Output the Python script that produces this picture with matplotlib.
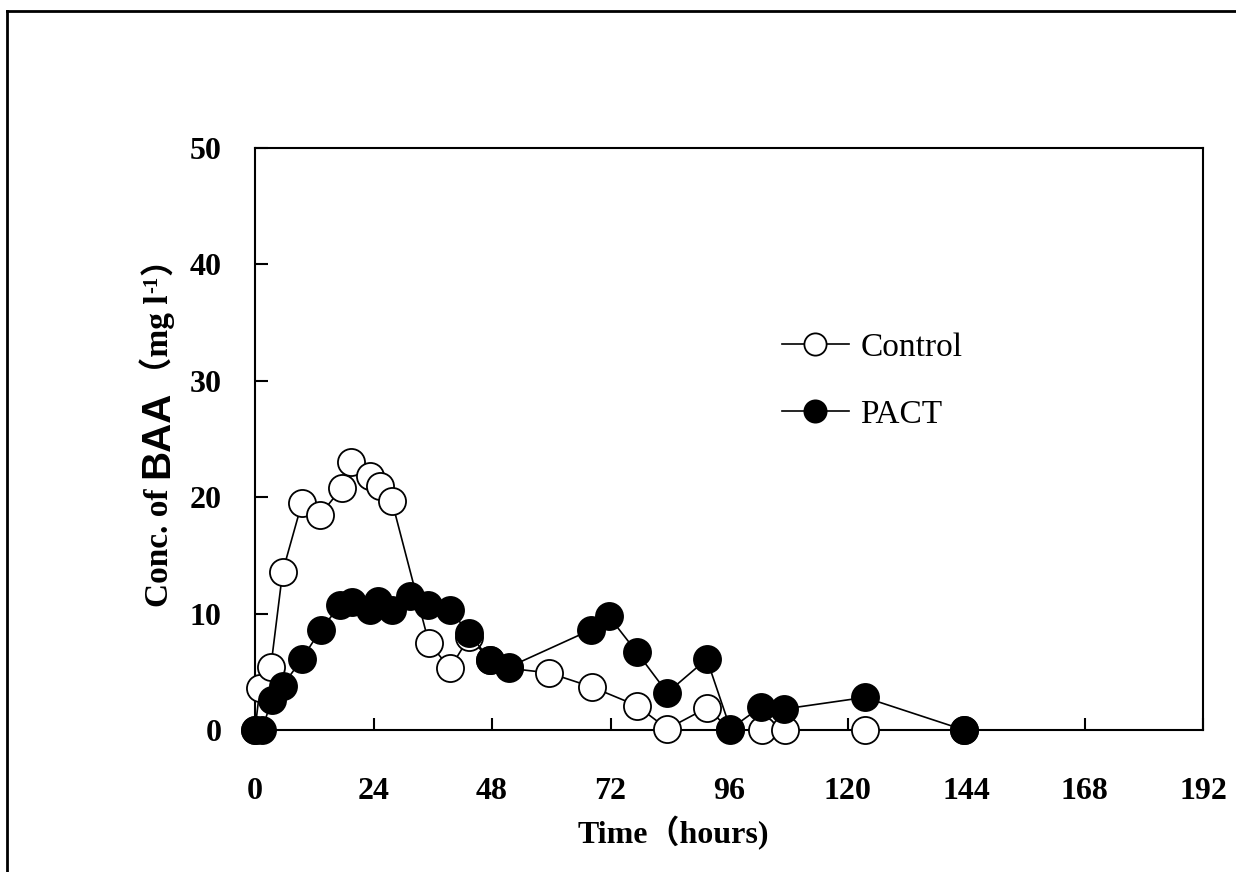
import matplotlib
matplotlib.use("Agg")
import matplotlib.pyplot as plt
from matplotlib.lines import Line2D

# sampling times (hours) and BAA concentration (mg/l)
hours_control = [0, 1, 3.2, 5.6, 9.5, 13.2, 17.6, 19.4, 23.2, 25.3, 27.7, 35.2,
                 39.5, 43.4, 47.6, 51.5, 59.6, 68.2, 77.3, 83.5, 91.5, 96.3,
                 102.6, 107.3, 123.5, 143.6]
conc_control = [0, 3.6, 5.4, 13.6, 19.5, 18.5, 20.8, 23.0, 21.8, 21.0, 19.7, 7.5,
                5.3, 8.0, 6.0, 5.3, 4.9, 3.7, 2.1, 0.1, 1.9, 0,
                0, 0, 0, 0]

hours_pact = [0, 1.4, 3.4, 5.6, 9.5, 13.3, 17.2, 19.6, 23.2, 25.0, 27.7, 31.4,
              35.1, 39.5, 43.4, 47.6, 51.4, 68.0, 71.6, 77.3, 83.5, 91.5, 96.3,
              102.5, 107.1, 123.5, 143.6]
conc_pact = [0, 0, 2.6, 3.8, 6.1, 8.6, 10.7, 11.0, 10.3, 11.1, 10.3, 11.5,
             10.7, 10.3, 8.3, 6.0, 5.4, 8.6, 9.8, 6.7, 3.2, 6.1, 0.1,
             2.0, 1.8, 2.8, 0]

x_ticks = [0, 24, 48, 72, 96, 120, 144, 168, 192]
y_ticks = [0, 10, 20, 30, 40, 50]

W, H = 1236, 872
SERIF = ["Liberation Serif", "Noto Sans CJK SC"]

fig = plt.figure(figsize=(W / 100, H / 100), dpi=100)
ax = fig.add_axes([255 / W, 1 - 730 / H, (1203 - 255) / W, (730 - 148) / H])

ax.plot(hours_control, conc_control, color="black", lw=1.2, marker="o",
        ms=19.5, mfc="white", mec="black", mew=1.3, clip_on=False, zorder=3,
        label="Control")
ax.plot(hours_pact, conc_pact, color="black", lw=1.2, marker="o",
        ms=19.5, mfc="black", mec="black", mew=1.3, clip_on=False, zorder=4,
        label="PACT")

ax.set_xlim(0, 192)
ax.set_ylim(0, 50)
ax.set_xticks(x_ticks)
ax.set_yticks(y_ticks)
ax.tick_params(direction="in", length=9, width=1.5, top=False, right=False)
ax.tick_params(axis="x", pad=34)
ax.tick_params(axis="y", pad=24)
for lab in ax.get_xticklabels() + ax.get_yticklabels():
    lab.set_fontfamily("Liberation Serif")
    lab.set_fontweight("bold")
    lab.set_fontsize(23)
for sp in ax.spines.values():
    sp.set_linewidth(1.5)

# legend
handles = [
    Line2D([], [], color="black", lw=1.2, marker="o", ms=16, mfc="white", mec="black", mew=1.3),
    Line2D([], [], color="black", lw=1.2, marker="o", ms=16, mfc="black", mec="black", mew=1.3),
]
ax.legend(handles, ["Control", "PACT"], loc="upper left",
          bbox_to_anchor=(782 / W, 1 - 332 / H), bbox_transform=fig.transFigure,
          frameon=False, borderpad=0, borderaxespad=0, handlelength=2.0,
          handletextpad=0.35, labelspacing=1.1,
          prop={"family": "Liberation Serif", "size": 24})

# x label
fig.text(673 / W, 1 - 833 / H, "Time（hours)", family=SERIF, weight="bold",
         fontsize=23, ha="center", va="center")

# y label made of pieces (mixed fonts + superscript), reading bottom to top
pieces = [
    ("Conc. of", "Liberation Serif", 24, 0, 0),
    ("BAA", "Liberation Sans", 29, 0, 11),
    ("（mg l", SERIF, 24, 0, 0),
    ("-1", "Liberation Serif", 15, -11, 2),
    ("）", SERIF, 24, 0, 0),
]
renderer = fig.canvas.get_renderer()
base_x = 168
texts = []
total = 0
for s, fam, size, dx, gap in pieces:
    t = fig.text(0, 0, s, family=fam, weight="bold", fontsize=size, rotation=90,
                 rotation_mode="anchor", ha="left", va="baseline")
    h = t.get_window_extent(renderer).height
    texts.append((t, dx, gap, h))
    total += gap + h
y = H - 242 - total  # pixels from bottom at start
for t, dx, gap, h in texts:
    y += gap
    t.set_position(((base_x + dx) / W, y / H))
    y += h

# outer frame lines (top and left)
fig.add_artist(Line2D([7 / W, 1], [1 - 11 / H, 1 - 11 / H], color="black", lw=2,
                      transform=fig.transFigure))
fig.add_artist(Line2D([7 / W, 7 / W], [0, 1 - 11 / H], color="black", lw=2,
                      transform=fig.transFigure))

fig.savefig("out.png", dpi=100)
